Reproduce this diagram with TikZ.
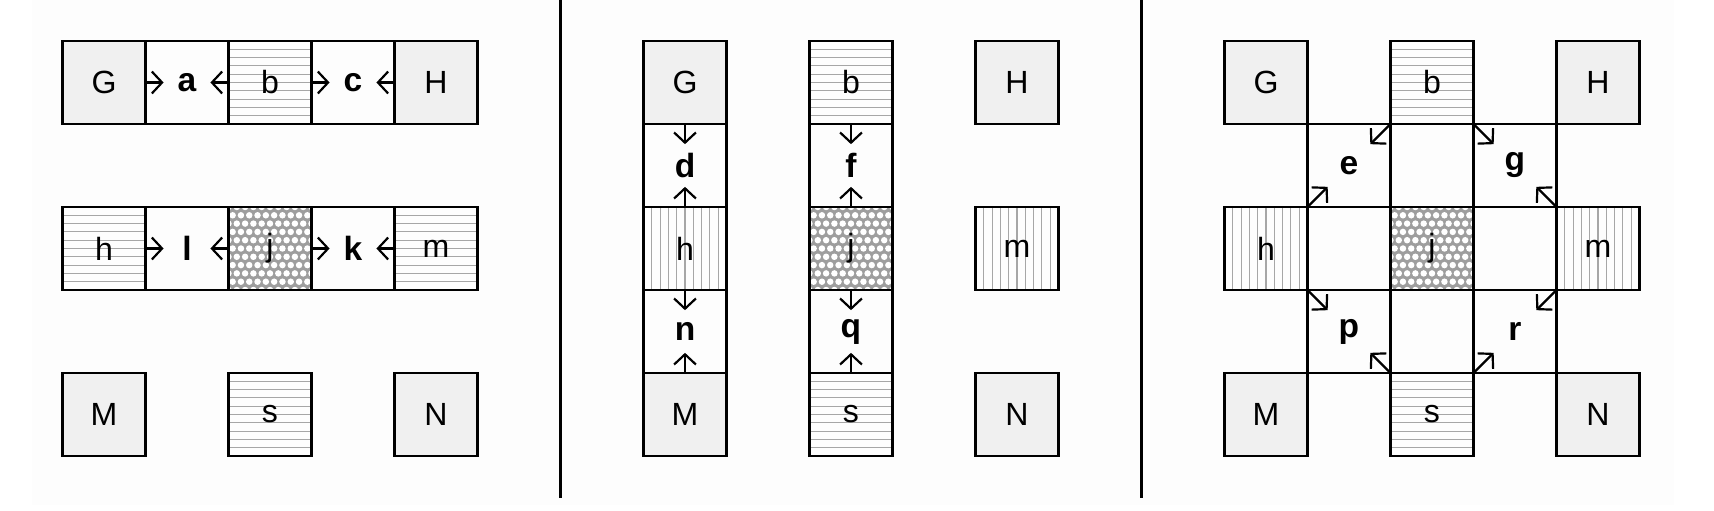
\documentclass[tikz,border=0pt]{standalone}
\usepackage{fontspec}
\setmainfont{Liberation Sans}
\usepackage{tikz}
\usetikzlibrary{arrows.meta}
\usetikzlibrary{positioning}
\tikzset{> = {Straight Barb[length=3.5pt, width=7.5pt]}, node distance = 0pt,
  cellbox/.style = {draw, line width = 0.7pt, minimum size = 1cm, inner sep = 0pt, outer sep = 0pt, font = \fontsize{11}{13}\selectfont},
  greybox/.style = {cellbox, fill = black!6},
  stripeline/.style = {black!35, line width = 0.4pt},
  hbox/.style = {cellbox, path picture = {\foreach \i in {1,...,9} \draw [stripeline] ([yshift = \i mm]path picture bounding box.south west) -- ([yshift = \i mm]path picture bounding box.south east);}},
  vbox/.style = {cellbox, path picture = {\foreach \i in {1,...,9} \draw [stripeline] ([xshift = \i mm]path picture bounding box.south west) -- ([xshift = \i mm]path picture bounding box.north west);}},
  meshbox/.style = {cellbox, path picture = {\fill [black!38] (path picture bounding box.south west) rectangle (path picture bounding box.north east);
      \foreach \r in {0,...,10} \foreach \c in {0,...,10} \fill [white] ([shift = {({\c*0.1 + mod(\r,2)*0.05}, {\r*0.1})}]path picture bounding box.south west) circle (0.039);}},
  lab/.style = {font = \fontsize{11.5}{13}\selectfont\bfseries, minimum width = 0.55cm, minimum height = 0.5cm, inner sep = 0pt},
  wire/.style = {->, line width = 0.75pt}
}

\begin{document}
\begin{tikzpicture}
    \useasboundingbox (-0.753,0.494) rectangle (19.898,-5.651);
    \fill [black!0.8] (-0.368,0.494) rectangle (19.42,-5.59);
    \draw [line width = 0.8pt] (6,0.494) -- (6,-5.5);
    \draw [line width = 0.8pt] (13,0.494) -- (13,-5.5);
    % left
    \node [greybox] (G1) at (0.5,-0.5) {G};
    \node [cellbox, right = of G1] (Ca) {};
    \node [hbox, right = of Ca] (b1) {b};
    \node [cellbox, right = of b1] (Cc) {};
    \node [greybox, right = of Cc] (H1) {H};
    \node [hbox, below = 1cm of G1] (h1) {h};
    \node [cellbox, right = of h1] (Cl) {};
    \node [meshbox, right = of Cl] (j1) {j};
    \node [cellbox, right = of j1] (Ck) {};
    \node [hbox, right = of Ck] (m1) {m};
    \node [greybox, below = 1cm of h1] (M1) {M};
    \node [hbox, below = 1cm of j1] (s1) {s};
    \node [greybox, below = 1cm of m1] (N1) {N};
    \node [lab] (a) at (Ca) {a};
    \node [lab] (c) at (Cc) {c};
    \node [lab] (l) at (Cl) {l};
    \node [lab] (k) at (Ck) {k};
    % middle
    \node [greybox] (G2) at (7.5,-0.5) {G};
    \node [cellbox, below = of G2] (Cd) {};
    \node [vbox, below = of Cd] (h2) {h};
    \node [cellbox, below = of h2] (Cn) {};
    \node [greybox, below = of Cn] (M2) {M};
    \node [hbox, right = 1cm of G2] (b2) {b};
    \node [cellbox, below = of b2] (Cf) {};
    \node [meshbox, below = of Cf] (j2) {j};
    \node [cellbox, below = of j2] (Cq) {};
    \node [hbox, below = of Cq] (s2) {s};
    \node [greybox, right = 1cm of b2] (H2) {H};
    \node [vbox, below = 1cm of H2] (m2) {m};
    \node [greybox, below = 1cm of m2] (N2) {N};
    \node [lab] (d) at (Cd) {d};
    \node [lab] (n) at (Cn) {n};
    \node [lab] (f) at (Cf) {f};
    \node [lab] (q) at (Cq) {q};
    % right
    \node [greybox] (G3) at (14.5,-0.5) {G};
    \node [hbox, right = 1cm of G3] (b3) {b};
    \node [greybox, right = 1cm of b3] (H3) {H};
    \node [cellbox, below right = of G3] (Ce) {};
    \node [cellbox, right = of Ce] (bj) {};
    \node [cellbox, right = of bj] (Cg) {};
    \node [vbox, below left = of Ce] (h3) {h};
    \node [cellbox, right = of h3] (hj) {};
    \node [meshbox, right = of hj] (j3) {j};
    \node [cellbox, right = of j3] (jm) {};
    \node [vbox, right = of jm] (m3) {m};
    \node [cellbox, below = of hj] (Cp) {};
    \node [cellbox, right = of Cp] (js) {};
    \node [cellbox, right = of js] (Cr) {};
    \node [greybox, below left = of Cp] (M3) {M};
    \node [hbox, below = of js] (s3) {s};
    \node [greybox, below right = of Cr] (N3) {N};
    \node [lab] (e) at (Ce) {e};
    \node [lab] (g) at (Cg) {g};
    \node [lab] (p) at (Cp) {p};
    \node [lab] (r) at (Cr) {r};
    % arrows
    \draw [wire] (G1.east) -- (a);
    \draw [wire] (b1.west) -- (a);
    \draw [wire] (b1.east) -- (c);
    \draw [wire] (H1.west) -- (c);
    \draw [wire] (h1.east) -- (l);
    \draw [wire] (j1.west) -- (l);
    \draw [wire] (j1.east) -- (k);
    \draw [wire] (m1.west) -- (k);
    \draw [wire] (G2.south) -- (d);
    \draw [wire] (h2.north) -- (d);
    \draw [wire] (h2.south) -- (n);
    \draw [wire] (M2.north) -- (n);
    \draw [wire] (b2.south) -- (f);
    \draw [wire] (j2.north) -- (f);
    \draw [wire] (j2.south) -- (q);
    \draw [wire] (s2.north) -- (q);
    \draw [wire] (b3.south west) -- (e);
    \draw [wire] (h3.north east) -- (e);
    \draw [wire] (b3.south east) -- (g);
    \draw [wire] (m3.north west) -- (g);
    \draw [wire] (h3.south east) -- (p);
    \draw [wire] (s3.north west) -- (p);
    \draw [wire] (s3.north east) -- (r);
    \draw [wire] (m3.south west) -- (r);
\end{tikzpicture}
\end{document}
